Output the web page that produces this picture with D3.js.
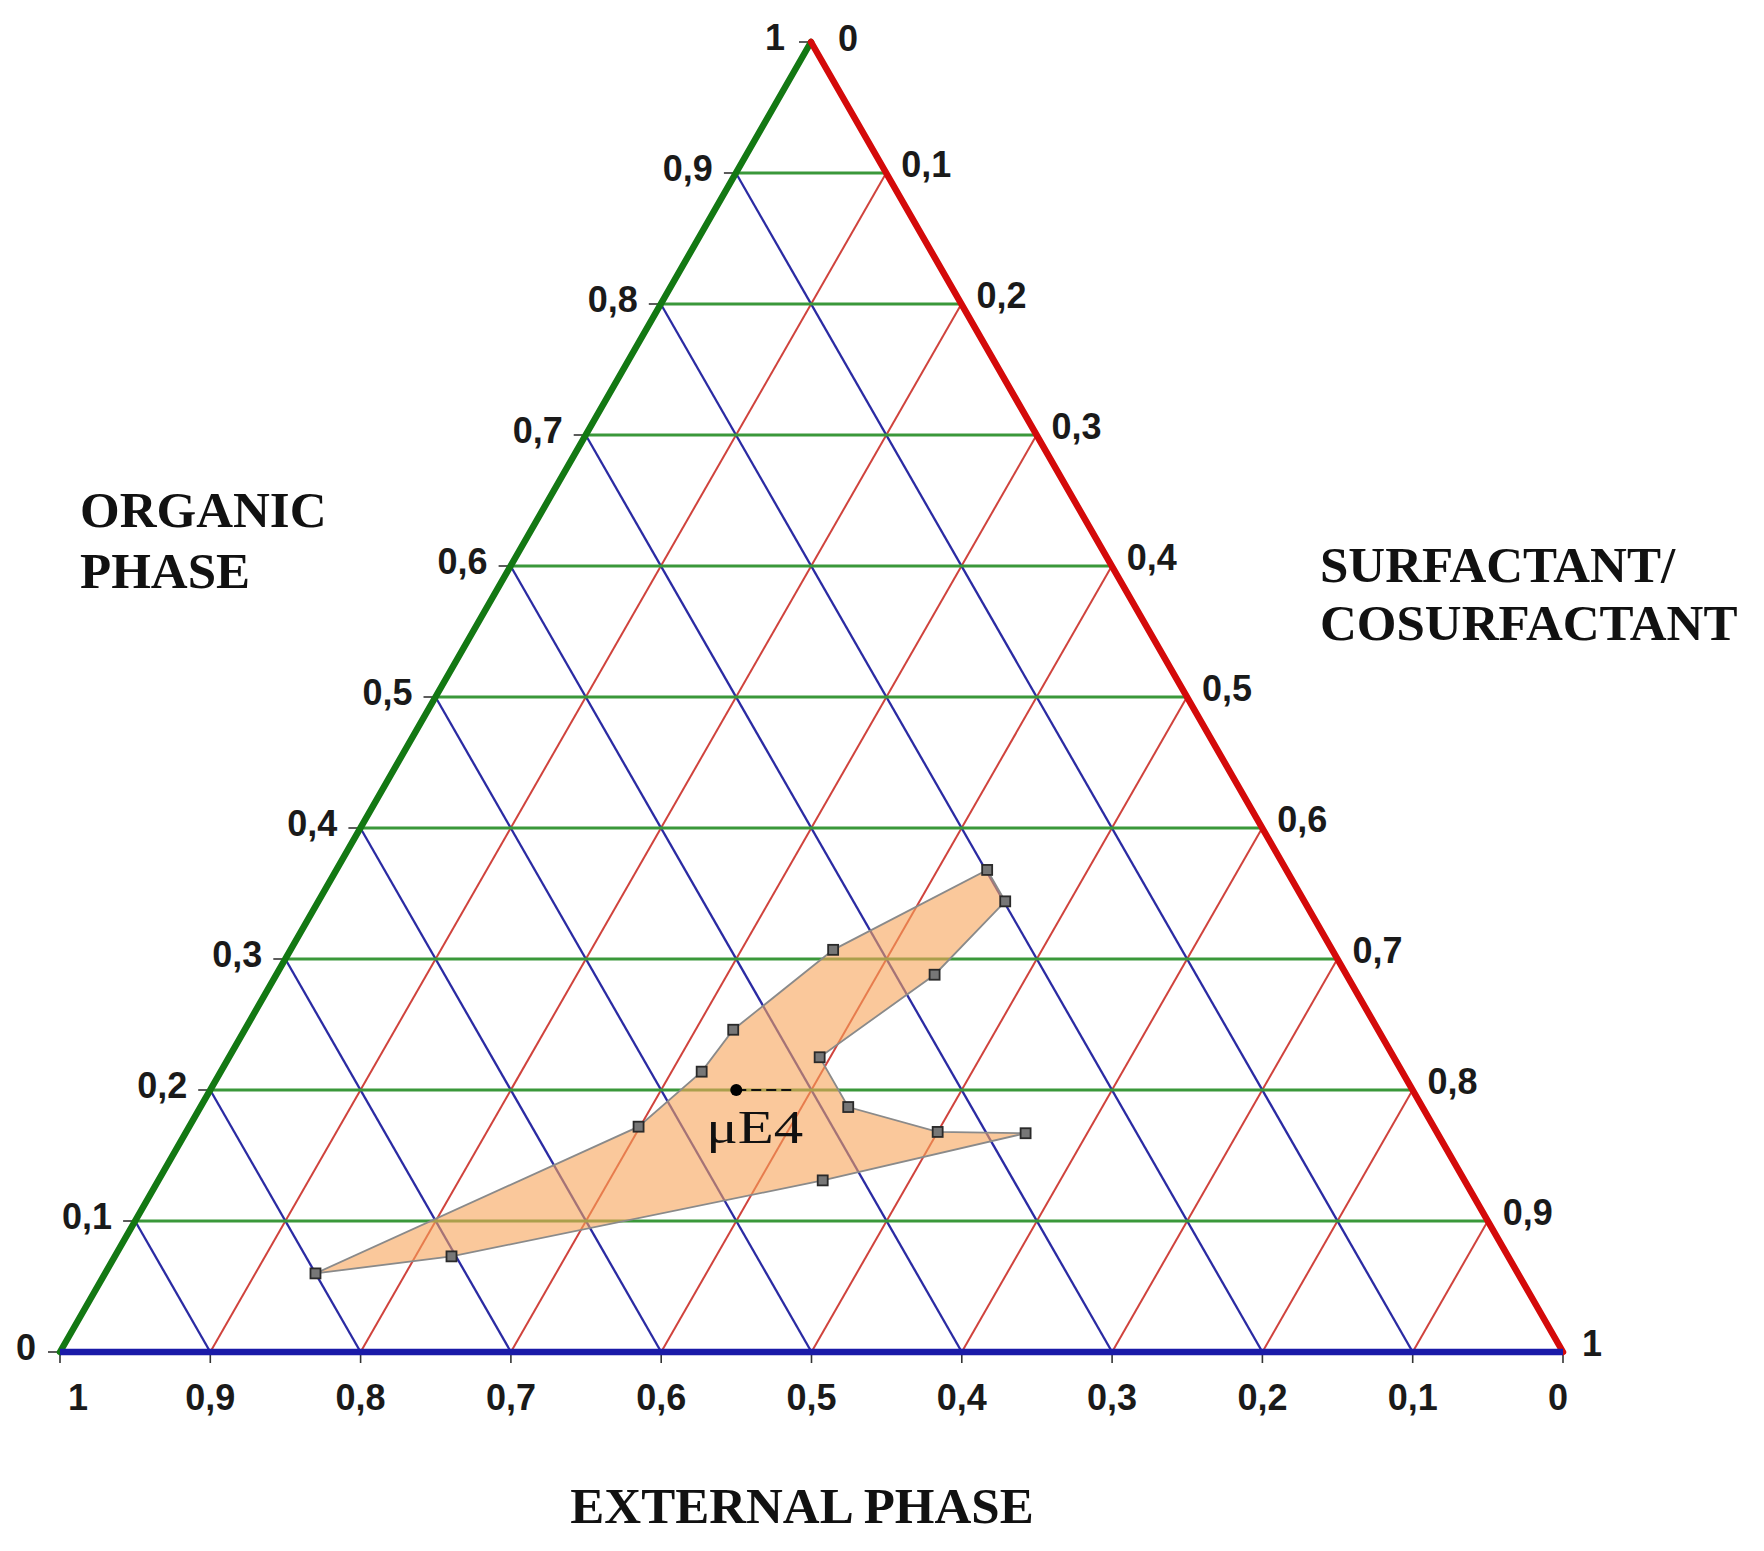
<!DOCTYPE html>
<html><head><meta charset="utf-8">
<script src="https://cdn.jsdelivr.net/npm/d3@7"></script>
<style>html,body{margin:0;padding:0;background:#fff} svg{display:block}</style>
</head><body>
<script>
// ---- data ----
const gridValues = [0.1,0.2,0.3,0.4,0.5,0.6,0.7,0.8,0.9];
const tickValues = [0,0.1,0.2,0.3,0.4,0.5,0.6,0.7,0.8,0.9,1];
const tickLabels = ["0","0,1","0,2","0,3","0,4","0,5","0,6","0,7","0,8","0,9","1"];
const axisTitleOrganic = ["ORGANIC","PHASE"];
const axisTitleSurfactant = ["SURFACTANT/","COSURFACTANT"];
const axisTitleExternal = "EXTERNAL PHASE";
// microemulsion region boundary (fractions)
const regionOrganic    = [0.060,0.172,0.214,0.246,0.307,0.368,0.344,0.288,0.225,0.187,0.168,0.167,0.131,0.073];
const regionSurfactant = [0.140,0.299,0.320,0.325,0.361,0.433,0.457,0.438,0.393,0.431,0.500,0.559,0.442,0.224];
const regionExternal   = [0.800,0.529,0.466,0.429,0.332,0.199,0.199,0.274,0.382,0.382,0.332,0.274,0.427,0.703];
const pointName = "μE4";
const pointOrganic = [0.20];
const pointSurfactant = [0.35];
const pointExternal = [0.45];

// ---- layout ----
const W = 1764, H = 1551;
const svg = d3.select("body").append("svg").attr("width", W).attr("height", H);

const yScale = d3.scaleLinear().domain([0,1]).range([1352, 42]);      // organic -> y
const sScale = d3.scaleLinear().domain([0,1]).range([60, 1563]);      // surfactant along base
const oShift = d3.scaleLinear().domain([0,1]).range([0, 751]);        // organic shift in x
function proj(o, s) { return [sScale(s) + oShift(o), yScale(o)]; }

const gGrid = svg.append("g");
// red: constant surfactant (parallel to left side)
gGrid.selectAll("line.red").data(gridValues).join("line")
  .attr("x1", d => proj(0, d)[0]).attr("y1", d => proj(0, d)[1])
  .attr("x2", d => proj(1 - d, d)[0]).attr("y2", d => proj(1 - d, d)[1])
  .attr("stroke", "#d0433d").attr("stroke-width", 2);
// blue: constant external (parallel to right side)
gGrid.selectAll("line.blue").data(gridValues).join("line")
  .attr("x1", d => proj(0, 1 - d)[0]).attr("y1", d => proj(0, 1 - d)[1])
  .attr("x2", d => proj(1 - d, 0)[0]).attr("y2", d => proj(1 - d, 0)[1])
  .attr("stroke", "#2b2ba3").attr("stroke-width", 2.3);
// green: constant organic
gGrid.selectAll("line.green").data(gridValues).join("line")
  .attr("x1", d => proj(d, 0)[0]).attr("y1", d => proj(d, 0)[1])
  .attr("x2", d => proj(d, 1 - d)[0]).attr("y2", d => proj(d, 1 - d)[1])
  .attr("stroke", "#3a983a").attr("stroke-width", 3.2);

// small ticks
const gTicks = svg.append("g").attr("stroke", "#333").attr("stroke-width", 1.6);
gTicks.selectAll("line.lt").data(tickValues).join("line")
  .attr("x1", d => proj(d, 0)[0] - 12).attr("y1", d => proj(d, 0)[1])
  .attr("x2", d => proj(d, 0)[0]).attr("y2", d => proj(d, 0)[1]);
gTicks.selectAll("line.bt").data(tickValues).join("line")
  .attr("x1", d => proj(0, d)[0]).attr("y1", d => proj(0, d)[1])
  .attr("x2", d => proj(0, d)[0]).attr("y2", d => proj(0, d)[1] + 11);

// region polygon
const regionPts = regionOrganic.map((o, i) => proj(o, regionSurfactant[i]));
svg.append("path")
  .attr("d", d3.line().curve(d3.curveLinearClosed)(regionPts))
  .attr("fill", "#f7a358").attr("fill-opacity", 0.6)
  .attr("stroke", "#8a8a8a").attr("stroke-width", 1.8);

// axes
const A = proj(1, 0), BL = proj(0, 0), BR = proj(0, 1);
svg.append("line").attr("x1", BL[0]).attr("y1", BL[1]).attr("x2", A[0]).attr("y2", A[1])
  .attr("stroke", "#137813").attr("stroke-width", 6.5).attr("stroke-linecap", "round");
svg.append("line").attr("x1", A[0]).attr("y1", A[1]).attr("x2", BR[0]).attr("y2", BR[1])
  .attr("stroke", "#d40a0a").attr("stroke-width", 6.5).attr("stroke-linecap", "round");
svg.append("line").attr("x1", BL[0]).attr("y1", BL[1]).attr("x2", BR[0]).attr("y2", BR[1])
  .attr("stroke", "#1a1aa8").attr("stroke-width", 6.5);

// markers
svg.append("g").selectAll("rect").data(regionPts).join("rect")
  .attr("x", d => d[0] - 5).attr("y", d => d[1] - 5)
  .attr("width", 10).attr("height", 10)
  .attr("fill", "#777").attr("stroke", "#2a2a2a").attr("stroke-width", 1.8);

// point μE4
const P = proj(pointOrganic[0], pointSurfactant[0]);
svg.append("line").attr("x1", P[0]).attr("y1", P[1]).attr("x2", P[0] + 57).attr("y2", P[1])
  .attr("stroke", "#111").attr("stroke-width", 2).attr("stroke-dasharray", "10,5");
svg.append("circle").attr("cx", P[0]).attr("cy", P[1]).attr("r", 6).attr("fill", "#000");
svg.append("text").attr("x", P[0] - 30).attr("y", P[1] + 53)
  .attr("font-family", "Liberation Serif, Times New Roman, serif").attr("font-size", 46)
  .attr("textLength", 97).attr("lengthAdjust", "spacingAndGlyphs")
  .attr("fill", "#111").text(pointName);

// tick labels
const lblFont = "Liberation Sans, Arial, sans-serif";
const gL = svg.append("g").attr("font-family", lblFont).attr("font-weight", "bold")
  .attr("font-size", 36).attr("fill", "#1a1a1a");
// left (organic)
gL.selectAll("text.l").data(tickValues).join("text")
  .attr("x", d => proj(d, 0)[0] - (d === 0 ? 24 : d === 1 ? 26 : 23))
  .attr("y", d => proj(d, 0)[1] + 8)
  .attr("text-anchor", "end")
  .text((d, i) => tickLabels[i]);
// right (surfactant: 0 at apex)
gL.selectAll("text.r").data(tickValues).join("text")
  .attr("x", d => proj(1 - d, d)[0] + (d === 0 ? 27 : d === 1 ? 19 : 15))
  .attr("y", d => proj(1 - d, d)[1] + (d === 0 ? 9 : 4))
  .attr("text-anchor", "start")
  .text((d, i) => tickLabels[i]);
// bottom (external: 1 at left)
gL.selectAll("text.b").data(tickValues).join("text")
  .attr("x", d => proj(0, 1 - d)[0] + (d === 1 ? 18 : d === 0 ? -5 : 0))
  .attr("y", d => proj(0, 1 - d)[1] + 58)
  .attr("text-anchor", "middle")
  .text((d, i) => tickLabels[i]);

// axis titles
const tFont = "Liberation Serif, Times New Roman, serif";
const gT = svg.append("g").attr("font-family", tFont).attr("font-weight", "bold")
  .attr("font-size", 51).attr("fill", "#111");
gT.selectAll("text.o").data(axisTitleOrganic).join("text")
  .attr("x", 80).attr("y", (d, i) => 527 + i * 61).text(d => d);
gT.selectAll("text.s").data(axisTitleSurfactant).join("text")
  .attr("x", 1320).attr("y", (d, i) => 582 + i * 58).text(d => d);
gT.append("text").attr("x", 802).attr("y", 1523).attr("text-anchor", "middle").text(axisTitleExternal);
</script>
</body></html>
